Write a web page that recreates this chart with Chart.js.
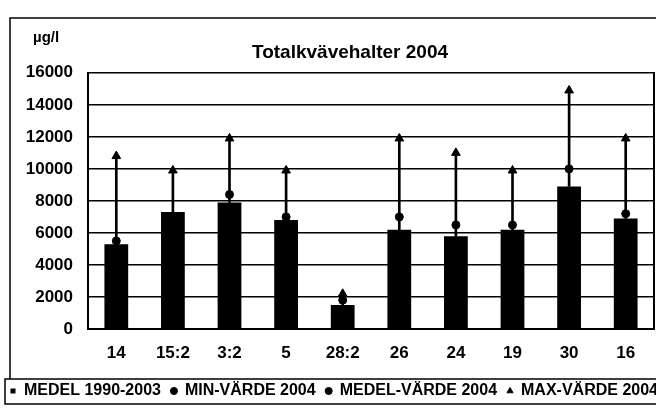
<!DOCTYPE html>
<html>
<head>
<meta charset="utf-8">
<script src="https://cdn.jsdelivr.net/npm/chart.js@4/dist/chart.umd.min.js"></script>
<style>
  html, body { margin: 0; padding: 0; background: #fff; }
  /* the scanned chart is cut off at the right edge, so the canvas is wider than the view */
  #wrap { width: 656px; height: 409px; overflow: hidden; }
  canvas { display: block; }
</style>
</head>
<body>
<div id="wrap"><canvas id="chart" width="700" height="409"></canvas></div>
<script>
// Stations (x axis)
const stations = ['14', '15:2', '3:2', '5', '28:2', '26', '24', '19', '30', '16'];

// MEDEL 1990-2003 (bars)
const medel19902003 = [5300, 7300, 7900, 6800, 1500, 6200, 5800, 6200, 8900, 6900];

// 2004 values. The min points sit inside the black bars and can't be read
const min2004 = [null, null, null, null, null, null, null, null, null, null];
const medel2004 = [5500, null, 8400, 7000, 1800, 7000, 6500, 6500, 10000, 7200];
const max2004 = [10800, 9900, 11900, 9900, 2200, 11900, 11000, 9900, 14900, 11900];

// y axis
const yMin = 0;
const yMax = 16000;
const yStep = 2000;

const FONT = "'Liberation Sans', Arial, sans-serif";

// Outer frame, legend box and the unit text
const framePlugin = {
    id: 'frame',
    afterDraw(chart) {
        const ctx = chart.ctx;
        ctx.save();
        ctx.strokeStyle = '#000';
        ctx.lineWidth = 1.5;
        ctx.beginPath();
        ctx.moveTo(10, 379);
        ctx.lineTo(10, 18);
        ctx.lineTo(chart.width, 18);
        ctx.stroke();
        ctx.strokeRect(5, 379, chart.width, 25);

        ctx.fillStyle = '#000';
        ctx.font = 'bold 15px ' + FONT;
        ctx.textBaseline = 'middle';
        ctx.fillText('µg/l', 33, 38);
        ctx.restore();
    }
};

function drawChart() {
    const ctx = document.getElementById('chart').getContext('2d');

    new Chart(ctx, {
        type: 'bar',
        data: {
            labels: stations,
            datasets: [
                {
                    label: 'MEDEL 1990-2003',
                    data: medel19902003,
                    backgroundColor: '#000',
                    pointStyle: 'rect',
                    barPercentage: 0.42,
                    categoryPercentage: 1,
                    order: 4
                },
                {
                    type: 'line',
                    label: 'MIN-VÄRDE 2004',
                    data: min2004,
                    showLine: false,
                    pointStyle: 'circle',
                    pointRadius: 3,
                    backgroundColor: '#000',
                    borderColor: '#000',
                    order: 1
                },
                {
                    type: 'line',
                    label: 'MEDEL-VÄRDE 2004',
                    data: medel2004,
                    showLine: false,
                    pointStyle: 'circle',
                    pointRadius: 4,
                    backgroundColor: '#000',
                    borderColor: '#000',
                    order: 1
                },
                {
                    type: 'line',
                    label: 'MAX-VÄRDE 2004',
                    data: max2004,
                    showLine: false,
                    pointStyle: 'triangle',
                    pointRadius: 5,
                    backgroundColor: '#000',
                    borderColor: '#000',
                    order: 0
                },
                {
                    // thin vertical line from the bar up to the max value
                    label: 'whisker',
                    data: stations.map((s, i) => [medel19902003[i], max2004[i]]),
                    backgroundColor: '#000',
                    barThickness: 2,
                    grouped: false,
                    order: 3
                }
            ]
        },
        options: {
            responsive: false,
            animation: false,
            devicePixelRatio: 1,
            layout: { padding: 0 },
            plugins: {
                title: {
                    display: true,
                    text: 'Totalkvävehalter 2004',
                    color: '#000',
                    font: { family: FONT, size: 19, weight: 'bold' },
                    padding: { top: 41, bottom: 9 }
                },
                legend: {
                    position: 'bottom',
                    align: 'start',
                    labels: {
                        usePointStyle: true,
                        boxWidth: 6,
                        boxHeight: 5,
                        padding: 10,
                        color: '#000',
                        font: { family: FONT, size: 16, weight: 'bold' },
                        filter: item => item.text !== 'whisker',
                        sort: (a, b) => a.datasetIndex - b.datasetIndex
                    }
                },
                tooltip: { enabled: false }
            },
            scales: {
                x: {
                    grid: { display: false, drawTicks: false },
                    border: { color: '#000', width: 2 },
                    ticks: {
                        color: '#000',
                        padding: 14,
                        maxRotation: 0,
                        font: { family: FONT, size: 17, weight: 'bold' }
                    },
                    afterFit: scale => { scale.height = 44; }
                },
                y: {
                    min: yMin,
                    max: yMax,
                    ticks: {
                        stepSize: yStep,
                        color: '#000',
                        padding: 15,
                        format: { useGrouping: false },
                        font: { family: FONT, size: 17, weight: 'bold' }
                    },
                    grid: { color: '#000', lineWidth: 1.5, drawTicks: false },
                    border: { color: '#000', width: 2 },
                    afterFit: scale => { scale.width = 88; }
                },
                // empty right axis, only gives the plot its right border
                yRight: {
                    position: 'right',
                    min: yMin,
                    max: yMax,
                    grid: { display: false, drawTicks: false },
                    ticks: { display: false },
                    border: { color: '#000', width: 2 },
                    afterFit: scale => { scale.width = 46; }
                }
            }
        },
        plugins: [framePlugin]
    });
}

document.addEventListener('DOMContentLoaded', drawChart);
</script>
</body>
</html>
